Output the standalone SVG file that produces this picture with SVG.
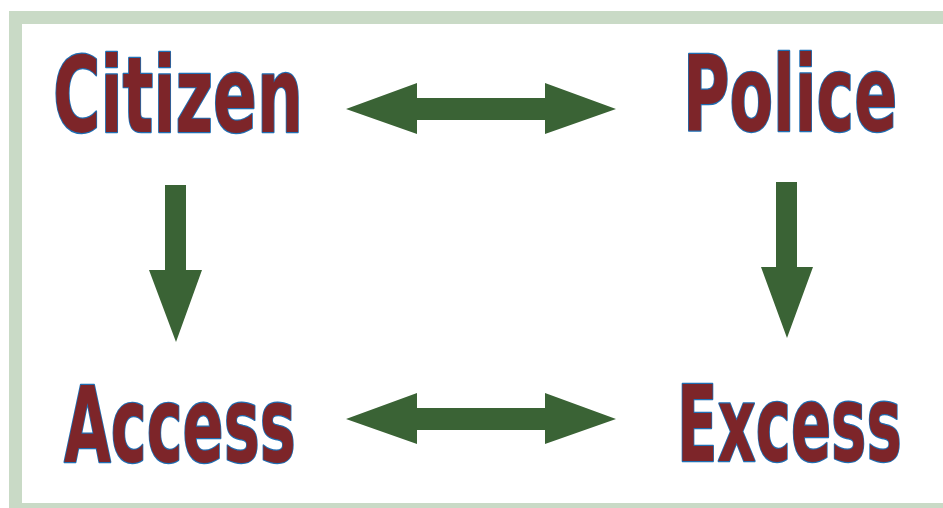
<svg xmlns="http://www.w3.org/2000/svg" width="943" height="508" viewBox="0 0 943 508">
  <style>
    .lbl { font-family: "Liberation Sans Narrow", "DejaVu Sans Condensed", "Liberation Sans", sans-serif; font-weight: bold; font-size: 105px; fill: #7d2529; stroke: #1f6fb4; stroke-width: 2.4px; paint-order: stroke; stroke-linejoin: round; }
    .arrow { fill: #3a6335; }
  </style>
  <rect x="0" y="0" width="943" height="508" fill="#ffffff"/>
  <g id="frame">
    <rect x="9" y="11" width="940" height="497" fill="#c9dac6"/>
    <rect x="22" y="24" width="921" height="479" fill="#ffffff"/>
  </g>
  <g id="citizen"><text class="lbl" transform="translate(53,132) scale(0.7,1)" x="0" y="0" textLength="357" lengthAdjust="spacingAndGlyphs">Citizen</text></g>
  <g id="police"><text class="lbl" transform="translate(683,131) scale(0.7,1)" x="0" y="0" textLength="306" lengthAdjust="spacingAndGlyphs">Police</text></g>
  <g id="access"><text class="lbl" transform="translate(64,462) scale(0.7,1)" x="0" y="0" textLength="331" lengthAdjust="spacingAndGlyphs">Access</text></g>
  <g id="excess"><text class="lbl" transform="translate(677,461) scale(0.7,1)" x="0" y="0" textLength="321" lengthAdjust="spacingAndGlyphs">Excess</text></g>
  <g id="connectors">
    <polygon class="arrow" points="346,109 417,83 417,98 545,98 545,83 616,109 545,134 545,120 417,120 417,134"/>
    <polygon class="arrow" points="346,419 417,393 417,408 545,408 545,393 616,419 545,444 545,430 417,430 417,444"/>
    <polygon class="arrow" points="165,185 186,185 186,270 202,270 176,342 149,270 165,270"/>
    <polygon class="arrow" points="776,182 797,182 797,267 813,267 787,338 761,267 776,267"/>
  </g>
</svg>
